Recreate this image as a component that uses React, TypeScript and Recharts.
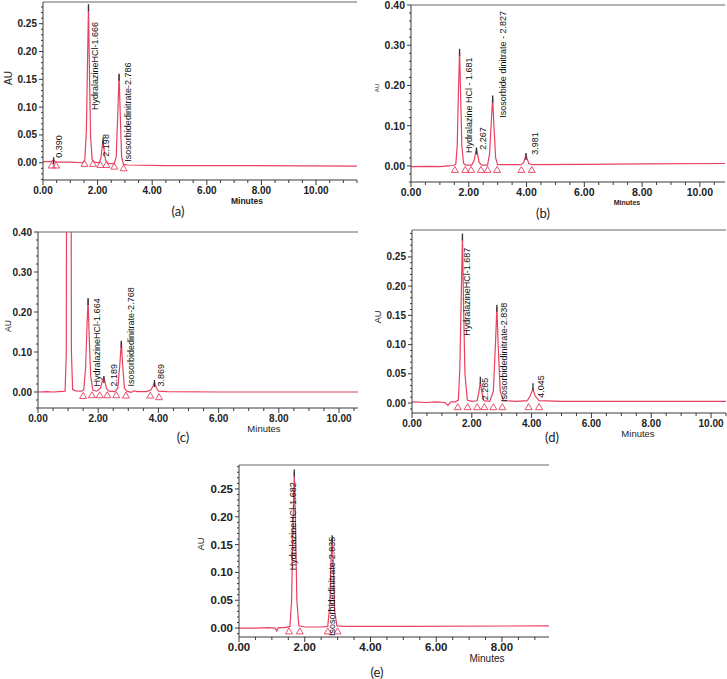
import { ComposedChart, Line, Scatter, XAxis, YAxis, ReferenceLine } from 'recharts';

const RED = '#e9405f';
const INK = '#3a3a3a';
const FONT = '"Liberation Sans", Arial, sans-serif';

// ---- (a) ----
const aTraceT = [0, 0.25, 0.34, 0.39, 0.44, 0.6, 1.0, 1.45, 1.53, 1.59, 1.63, 1.666, 1.7, 1.74, 1.8, 1.88, 2.05, 2.12, 2.16, 2.198, 2.24, 2.29, 2.38, 2.6, 2.68, 2.74, 2.786, 2.83, 2.88, 2.95, 3.1, 4.5, 7.0, 11.5];
const aTraceAU = [0.002, 0.002, 0.003, 0.006, 0.002, 0.001, 0.001, 0.0, 0.004, 0.06, 0.18, 0.283, 0.17, 0.05, 0.006, 0.001, 0.0, 0.008, 0.025, 0.04, 0.022, 0.005, -0.001, -0.002, 0.01, 0.09, 0.159, 0.085, 0.01, -0.003, -0.004, -0.005, -0.005, -0.006];
const aApexT = [0.39, 1.666, 2.198, 2.786];
const aApexAU = [0.01, 0.285, 0.045, 0.16];
const aMarkT = [0.32, 0.48, 1.52, 1.83, 2.1, 2.32, 2.61, 2.95];
const aMarkAU = [-0.005, -0.005, -0.002, -0.002, -0.004, -0.004, -0.007, -0.01];
const aLabels = ['0.390', 'HydralazineHCl-1.666', '2.198', 'Isosorbidedinitrate-2.786'];
const aLabelT = [0.57, 1.9, 2.32, 3.1];
const aLabelAU = [0.009, 0.095, 0.011, 0.002];
const aYTicks = [0, 0.05, 0.1, 0.15, 0.2, 0.25];

// ---- (b) ----
const bTraceT = [0, 0.5, 1.0, 1.3, 1.45, 1.55, 1.6, 1.64, 1.681, 1.72, 1.76, 1.82, 1.9, 2.1, 2.18, 2.23, 2.267, 2.31, 2.36, 2.45, 2.65, 2.72, 2.78, 2.827, 2.87, 2.93, 3.0, 3.3, 3.8, 3.9, 3.95, 3.981, 4.02, 4.08, 4.2, 6.0, 8.0, 10.87];
const bTraceAU = [-0.002, -0.001, -0.002, 0.0, 0.001, 0.004, 0.05, 0.18, 0.285, 0.17, 0.05, 0.006, 0.002, 0.002, 0.012, 0.03, 0.043, 0.028, 0.008, 0.002, 0.002, 0.03, 0.11, 0.17, 0.1, 0.02, 0.003, 0.003, 0.003, 0.008, 0.02, 0.028, 0.018, 0.006, 0.003, 0.004, 0.005, 0.006];
const bApexT = [1.681, 2.267, 2.827, 3.981];
const bApexAU = [0.291, 0.046, 0.175, 0.032];
const bMarkT = [1.52, 1.88, 2.08, 2.42, 2.65, 2.98, 3.82, 4.18];
const bMarkAU = [-0.01, -0.01, -0.01, -0.01, -0.01, -0.01, -0.01, -0.01];
const bLabels = ['Hydralazine HCl - 1.681', '2.267', 'Isosorbide dinitrate - 2.827', '3.981'];
const bLabelT = [2.02, 2.5, 3.19, 4.29];
const bLabelAU = [0.032, 0.04, 0.12, 0.028];
const bYTicks = [0, 0.1, 0.2, 0.3, 0.4];

// ---- (c) ----
const cTraceT = [0, 0.3, 0.5, 0.7, 0.9, 0.94, 0.955, 1.02, 1.095, 1.11, 1.15, 1.25, 1.45, 1.52, 1.58, 1.63, 1.664, 1.7, 1.75, 1.82, 1.95, 2.08, 2.14, 2.189, 2.23, 2.28, 2.36, 2.55, 2.65, 2.72, 2.768, 2.81, 2.87, 2.95, 3.1, 3.2, 3.3, 3.6, 3.75, 3.82, 3.869, 3.92, 4.0, 4.3, 6.0, 10.63];
const cTraceAU = [0.0, 0.001, 0.0, 0.001, 0.002, 0.1, 0.8, 1.2, 0.8, 0.1, 0.006, 0.003, 0.002, 0.005, 0.06, 0.17, 0.232, 0.14, 0.04, 0.005, 0.002, 0.01, 0.028, 0.036, 0.024, 0.008, 0.002, 0.001, 0.01, 0.07, 0.125, 0.07, 0.01, 0.002, -0.001, 0.003, 0.001, 0.001, 0.005, 0.015, 0.024, 0.012, 0.002, 0.001, 0.0, 0.0];
const cApexT = [1.664, 2.189, 2.768, 3.869];
const cApexAU = [0.235, 0.04, 0.128, 0.03];
const cMarkT = [1.5, 1.79, 2.05, 2.3, 2.6, 2.92, 3.73, 4.02];
const cMarkAU = [-0.01, -0.008, -0.008, -0.008, -0.008, -0.009, -0.009, -0.013];
const cLabels = ['HydralazineHCl-1.664', '2.189', 'Isosorbidedinitrate-2.768', '3.869'];
const cLabelT = [1.96, 2.52, 3.08, 4.09];
const cLabelAU = [0.014, 0.014, 0.014, 0.014];
const cYTicks = [0, 0.1, 0.2, 0.3, 0.4];

// ---- (d) ----
const dTraceT = [0, 0.5, 0.8, 1.1, 1.2, 1.3, 1.45, 1.55, 1.6, 1.65, 1.687, 1.72, 1.77, 1.85, 2.0, 2.18, 2.24, 2.285, 2.33, 2.4, 2.6, 2.72, 2.79, 2.838, 2.88, 2.95, 3.05, 3.5, 3.85, 3.95, 4.045, 4.12, 4.25, 5.0, 7.0, 10.5];
const dTraceAU = [0.002, 0.001, 0.002, 0.001, -0.004, 0.002, 0.002, 0.005, 0.06, 0.19, 0.285, 0.18, 0.05, 0.005, 0.003, 0.004, 0.02, 0.036, 0.02, 0.004, 0.003, 0.02, 0.1, 0.164, 0.1, 0.02, 0.004, 0.003, 0.004, 0.012, 0.024, 0.012, 0.004, 0.003, 0.003, 0.003];
const dApexT = [1.687, 2.285, 2.838, 4.045];
const dApexAU = [0.29, 0.045, 0.168, 0.034];
const dMarkT = [1.53, 1.86, 2.18, 2.42, 2.72, 3.02, 3.9, 4.25];
const dMarkAU = [-0.007, -0.007, -0.007, -0.007, -0.007, -0.007, -0.007, -0.007];
const dLabels = ['HydralazineHCl-1.687', '2.285', 'Isosorbidedinitrate-2.838', '4.045'];
const dLabelT = [1.84, 2.44, 3.08, 4.31];
const dLabelAU = [0.115, 0.005, 0.002, 0.009];
const dYTicks = [0, 0.05, 0.1, 0.15, 0.2, 0.25];

// ---- (e) ----
const eTraceT = [0, 0.5, 0.9, 1.1, 1.15, 1.2, 1.4, 1.55, 1.6, 1.64, 1.682, 1.72, 1.76, 1.82, 2.0, 2.5, 2.7, 2.76, 2.8, 2.835, 2.87, 2.91, 2.98, 3.2, 5.0, 9.43];
const eTraceAU = [0, 0, 0.001, 0.0, -0.005, 0.001, 0.001, 0.003, 0.05, 0.18, 0.28, 0.18, 0.05, 0.004, 0.002, 0.002, 0.003, 0.04, 0.12, 0.163, 0.11, 0.03, 0.004, 0.003, 0.003, 0.004];
const eApexT = [1.682, 2.835];
const eApexAU = [0.285, 0.167];
const eMarkT = [1.52, 1.85, 2.7, 3.0];
const eMarkAU = [-0.006, -0.006, -0.006, -0.006];
const eLabels = ['HydralazineHCl-1.682', 'Isosorbidedinitrate-2.835'];
const eLabelT = [1.64, 2.83];
const eLabelAU = [0.104, -0.014];
const eYTicks = [0, 0.05, 0.1, 0.15, 0.2, 0.25];

const xMajors = [0, 2, 4, 6, 8, 10];

type Pt = { t: number; au: number; name?: string };
const pts = (t: number[], v: number[], names?: string[]): Pt[] =>
  t.map((ti, i) => ({ t: ti, au: v[i], name: names ? names[i] : undefined }));

const steps = (lo: number, hi: number, step: number) => {
  const out: number[] = [];
  for (let i = Math.ceil(lo / step - 1e-9); i * step <= hi + 1e-9; i++) out.push(+(i * step).toFixed(4));
  return out;
};

type Panel = {
  left: number; top: number; width: number; height: number;
  xMax: number; yMin: number; yMax: number;
  yMajor: number[]; yMinorStep: number; tickFs: number;
  trace: Pt[]; apex: Pt[]; marks: Pt[]; labels: Pt[];
};

const panels: Panel[] = [
  { left: 43, top: 2, width: 314, height: 178, xMax: 11.5, yMin: -0.031, yMax: 0.289, yMajor: aYTicks, yMinorStep: 0.01, tickFs: 10,
    trace: pts(aTraceT, aTraceAU), apex: pts(aApexT, aApexAU), marks: pts(aMarkT, aMarkAU), labels: pts(aLabelT, aLabelAU, aLabels) },
  { left: 411, top: 5, width: 314, height: 177, xMax: 10.87, yMin: -0.04, yMax: 0.4, yMajor: bYTicks, yMinorStep: 0.02, tickFs: 10.5,
    trace: pts(bTraceT, bTraceAU), apex: pts(bApexT, bApexAU), marks: pts(bMarkT, bMarkAU), labels: pts(bLabelT, bLabelAU, bLabels) },
  { left: 38, top: 232, width: 320, height: 176, xMax: 10.63, yMin: -0.04, yMax: 0.4, yMajor: cYTicks, yMinorStep: 0.02, tickFs: 10,
    trace: pts(cTraceT, cTraceAU), apex: pts(cApexT, cApexAU), marks: pts(cMarkT, cMarkAU), labels: pts(cLabelT, cLabelAU, cLabels) },
  { left: 412, top: 230, width: 314, height: 183, xMax: 10.5, yMin: -0.017, yMax: 0.296, yMajor: dYTicks, yMinorStep: 0.01, tickFs: 10,
    trace: pts(dTraceT, dTraceAU), apex: pts(dApexT, dApexAU), marks: pts(dMarkT, dMarkAU), labels: pts(dLabelT, dLabelAU, dLabels) },
  { left: 239, top: 465, width: 310, height: 172, xMax: 9.43, yMin: -0.016, yMax: 0.293, yMajor: eYTicks, yMinorStep: 0.01, tickFs: 11.5,
    trace: pts(eTraceT, eTraceAU), apex: pts(eApexT, eApexAU), marks: pts(eMarkT, eMarkAU), labels: pts(eLabelT, eLabelAU, eLabels) },
];

const YW = 40;
const XH = 34;
const MT = 10;
const MR = 2;

const isMajor = (list: number[], v: number) => list.some((m) => Math.abs(m - v) < 1e-6);

const Triangle = (props: any) => {
  const { cx, cy } = props;
  return <polygon points={`${cx},${cy - 3.5} ${cx - 3.5},${cy + 2.5} ${cx + 3.5},${cy + 2.5}`} fill="none" stroke={RED} strokeWidth={0.9} />;
};

const ApexTip = (props: any) => {
  const { cx, cy } = props;
  return <line x1={cx} x2={cx} y1={cy} y2={cy + 7} stroke="#333" strokeWidth={1.3} />;
};

const PeakLabel = (props: any) => {
  const { cx, cy, payload } = props;
  return (
    <text x={cx} y={cy} transform={`rotate(-90 ${cx} ${cy})`} textAnchor="start" dy="0.35em" fontSize={9} fill="#111" fontFamily={FONT}>
      {payload.name}
    </text>
  );
};

function Chromatogram({ p }: { p: Panel }) {
  const xTicks = steps(0, p.xMax, 0.5);
  const yTicks = steps(p.yMin, p.yMax, p.yMinorStep);

  const xTick = (props: any) => {
    const { x, y, payload } = props;
    const major = isMajor(xMajors, payload.value);
    return (
      <g>
        <line x1={x} x2={x} y1={y} y2={y + (major ? 5 : 3)} stroke={INK} />
        {major && (
          <text x={x} y={y + 10} textAnchor="middle" dominantBaseline="central" fontSize={p.tickFs} fontWeight="bold" fill="#222" fontFamily={FONT}>
            {payload.value.toFixed(2)}
          </text>
        )}
      </g>
    );
  };

  const yTick = (props: any) => {
    const { x, y, payload } = props;
    const major = isMajor(p.yMajor, payload.value);
    return (
      <g>
        <line x1={x} x2={x - (major ? 4 : 2)} y1={y} y2={y} stroke={INK} />
        {major && (
          <text x={x - 6} y={y} textAnchor="end" dominantBaseline="central" fontSize={p.tickFs} fontWeight="bold" fill="#222" fontFamily={FONT}>
            {payload.value.toFixed(2)}
          </text>
        )}
      </g>
    );
  };

  return (
    <div style={{ position: 'absolute', left: p.left - YW, top: p.top - MT }}>
      <ComposedChart width={YW + p.width + MR} height={MT + p.height + XH} margin={{ top: MT, right: MR, bottom: 0, left: 0 }}>
        <XAxis dataKey="t" type="number" domain={[0, p.xMax]} allowDataOverflow ticks={xTicks} interval={0}
          tickSize={0} tickMargin={0} tickLine={false} axisLine={{ stroke: INK }} tick={xTick} height={XH} />
        <YAxis dataKey="au" type="number" domain={[p.yMin, p.yMax]} allowDataOverflow ticks={yTicks} interval={0}
          tickSize={0} tickMargin={0} tickLine={false} axisLine={{ stroke: INK }} tick={yTick} width={YW} />
        <ReferenceLine y={p.yMax} stroke="#666" />
        <Line data={p.trace} dataKey="au" type="linear" stroke={RED} strokeWidth={1.2} dot={false} isAnimationActive={false} />
        <Scatter data={p.marks} dataKey="au" shape={Triangle} isAnimationActive={false} />
        <Scatter data={p.apex} dataKey="au" shape={ApexTip} isAnimationActive={false} />
        <Scatter data={p.labels} dataKey="au" shape={PeakLabel} isAnimationActive={false} />
      </ComposedChart>
    </div>
  );
}

const App = () => {
  return (
    <div style={{ position: 'absolute', left: 0, top: 0, width: 727, height: 679, background: '#fff', overflow: 'hidden' }}>
      {panels.map((p, i) => (
        <Chromatogram key={i} p={p} />
      ))}
      <svg width={727} height={679} style={{ position: 'absolute', left: 0, top: 0, pointerEvents: 'none' }}>
        <g fontFamily={FONT} fill="#222" textAnchor="middle" dominantBaseline="central">
          <text transform="translate(8,78) rotate(-90)" fontSize={10}>AU</text>
          <text x={247} y={201} fontSize={8.5} fontWeight="bold">Minutes</text>
          <text transform="translate(377,88) rotate(-90)" fontSize={6}>AU</text>
          <text x={627} y={202.5} fontSize={7} fontWeight="bold">Minutes</text>
          <text transform="translate(8,326) rotate(-90)" fontSize={8.5}>AU</text>
          <text x={264} y={428.5} fontSize={9.5}>Minutes</text>
          <text transform="translate(377,317) rotate(-90)" fontSize={9.5}>AU</text>
          <text x={638} y={433.5} fontSize={9.5}>Minutes</text>
          <text transform="translate(200,544) rotate(-90)" fontSize={9.5}>AU</text>
          <text x={487} y={658.5} fontSize={10}>Minutes</text>
        </g>
        <g fontFamily='Lato, "Open Sans", sans-serif' fill="#222" textAnchor="middle" dominantBaseline="central" fontSize={13}>
          <text x={178} y={211}>(a)</text>
          <text x={543} y={213}>(b)</text>
          <text x={183} y={437}>(c)</text>
          <text x={552} y={437}>(d)</text>
          <text x={377} y={672}>(e)</text>
        </g>
      </svg>
    </div>
  );
};

export default App;
